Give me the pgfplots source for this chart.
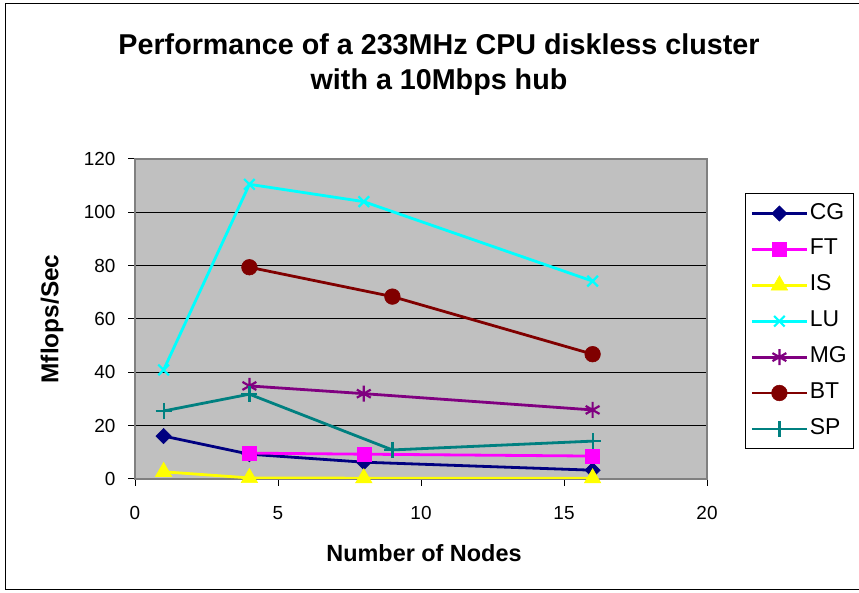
\documentclass[border=0pt]{standalone}
\usepackage{pgfplots}
\pgfplotsset{compat=1.18}
\usepackage{fontspec}
\setmainfont{Liberation Sans}
\definecolor{cgc}{RGB}{0,0,128}
\definecolor{ftc}{RGB}{255,0,255}
\definecolor{isc}{RGB}{255,255,0}
\definecolor{luc}{RGB}{0,255,255}
\definecolor{mgc}{RGB}{128,0,128}
\definecolor{btc}{RGB}{128,0,0}
\definecolor{spc}{RGB}{0,128,128}
\definecolor{bgc}{RGB}{192,192,192}
\begin{document}
\begin{tikzpicture}[x=1bp,y=1bp]
\useasboundingbox (0,0) rectangle (859,593);
\fill[white] (0,0) rectangle (859,593);
\draw[line width=1bp] (5,3) rectangle (865,589);
\node[font=\fontsize{28.8}{35}\selectfont\bfseries,align=center] at (439,528) {Performance of a 233MHz CPU diskless cluster\\with a 10Mbps hub};
\node[rotate=90,font=\fontsize{24.5}{26}\selectfont\bfseries] at (52,274) {Mflops/Sec};
\node[font=\fontsize{23.5}{26}\selectfont\bfseries] at (424,40) {Number of Nodes};
\begin{axis}[
  at={(135bp,114bp)}, anchor=south west,
  scale only axis, width=572bp, height=320bp,
  xmin=0, xmax=20, ymin=0, ymax=120,
  xtick={0,5,...,20}, ytick={0,20,...,120},
  axis background/.style={fill=bgc},
  axis line style={draw=gray, line width=1.5bp},
  ymajorgrids, major grid style={black, line width=1bp},
  tick style={black, line width=1bp},
  tick align=outside, major tick length=7bp,
  xtick pos=bottom, ytick pos=left,
  /pgf/number format/assume math mode=true,
  ticklabel style={font=\fontsize{19}{22}\selectfont},
  xticklabel style={yshift=-17bp},
  yticklabel style={xshift=-9bp},
  myline/.style={line width=2.8bp},
  legend style={at={(1.0664,0.8937)}, anchor=north west, draw=black, line width=1bp,
    font=\fontsize{23}{23}\selectfont, row sep=13.9bp, inner xsep=5bp, inner ysep=9bp,
    nodes={text height=15bp, text depth=4bp, inner sep=1.5bp},
    cells={anchor=west}},
  legend cell align=left,
  legend image code/.code={\draw[mark repeat=2,mark phase=2,#1] plot coordinates {(0bp,0bp) (27.5bp,0bp) (55bp,0bp)};},
]
\addplot[cgc, myline, mark=square*, mark size=5.4bp, mark options={solid, rotate=45, line width=0.6bp, fill=cgc}] coordinates {(1,16.1) (4,9.3) (8,6.3) (16,3.3)};
\addlegendentry{CG}
\addplot[ftc, myline, mark=square*, mark size=7bp, mark options={solid, line width=0.6bp}] coordinates {(4,9.7) (8,9.3) (16,8.6)};
\addlegendentry{FT}
\addplot[isc, myline, mark=triangle*, mark size=9.5bp, mark options={solid, line width=0.6bp}] coordinates {(1,2.7) (4,0.4) (8,0.3) (16,0.3)};
\addlegendentry{IS}
\addplot[luc, myline, mark=x, mark size=7.5bp, mark options={solid, line width=2.2bp}] coordinates {(1,40.9) (4,110.5) (8,104) (16,74.2)};
\addlegendentry{LU}
\addplot[mgc, myline, mark=asterisk, mark size=8bp, mark options={solid, line width=2.2bp}] coordinates {(4,34.9) (8,32.0) (16,25.9)};
\addlegendentry{MG}
\addplot[btc, myline, mark=*, mark size=7.8bp, mark options={solid, line width=0.6bp}] coordinates {(4,79.4) (9,68.4) (16,46.8)};
\addlegendentry{BT}
\addplot[spc, myline, mark=+, mark size=8bp, mark options={solid, line width=2.2bp}] coordinates {(1,25.5) (4,31.8) (9,10.9) (16,14.2)};
\addlegendentry{SP}
\end{axis}
\end{tikzpicture}
\end{document}
